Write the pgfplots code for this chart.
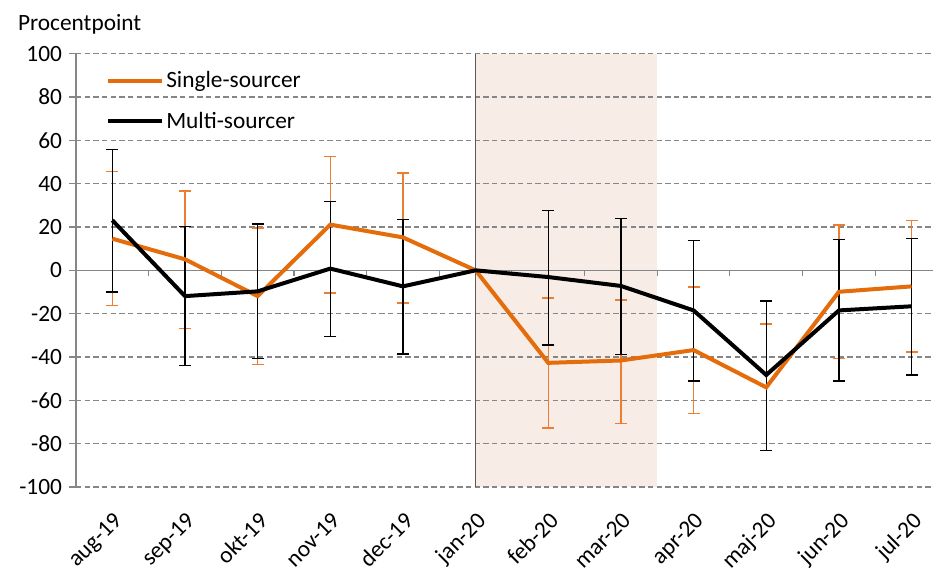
\documentclass[border=0pt]{standalone}
\usepackage{pgfplots}
\pgfplotsset{compat=1.18}
\usepackage{pgfplotstable}
\usepackage{fontspec}
\setmainfont{Carlito}
\definecolor{orng}{RGB}{228,108,10}
\definecolor{orngerr}{RGB}{237,125,49}
\definecolor{shadec}{RGB}{247,236,230}
\definecolor{gridc}{RGB}{134,134,134}
\definecolor{vline}{RGB}{89,89,89}

\pgfplotstableread{
x y ep em
0 14.6 31.1 30.8
1 5.1 31.5 32.0
2 -11.9 31.5 31.7
3 21.1 31.4 31.6
4 15.2 29.8 30.3
5 0 0 0
6 -42.7 29.9 30.1
7 -41.6 27.9 29.1
8 -36.8 29.1 29.3
9 -54.0 29.2 29.0
10 -9.9 30.8 30.9
11 -7.4 30.5 30.3
}\single

\pgfplotstableread{
x y ep em
0 23.1 32.8 33.1
1 -11.9 32.2 32.1
2 -9.7 31.1 31.1
3 0.8 31.1 31.3
4 -7.4 30.8 31.2
5 0 0 0
6 -3.1 30.8 31.4
7 -7.2 31.1 31.6
8 -18.5 32.4 32.5
9 -48.3 34.1 34.8
10 -18.5 32.8 32.6
11 -16.6 31.4 31.7
}\multi

\begin{document}
\begin{tikzpicture}[font=\fontsize{17.5}{21}\selectfont]
\begin{axis}[
  set layers,
  scale only axis, width=643pt, height=325pt,
  xmin=-0.5, xmax=11.3, ymin=-100, ymax=100,
  ytick={-100,-80,...,100},
  xtick={0,...,11},
  xticklabels={aug-19,sep-19,okt-19,nov-19,dec-19,jan-20,feb-20,mar-20,apr-20,maj-20,jun-20,jul-20},
  x tick label style={rotate=45, anchor=north east, inner sep=2pt},
  xticklabel shift=10pt,
  xtick style={draw=none},
  ytick pos=left,
  tick align=outside,
  major tick length=5pt,
  ytick style={gridc, line width=0.8pt},
  y tick label style={xshift=-2pt},
  /pgf/number format/assume math mode=true,
  ymajorgrids,
  grid style={gridc, line width=0.8pt, dash pattern=on 4pt off 2.5pt},
  axis line style={draw=none},
  legend style={draw=none, fill=none, at={(rel axis cs:0.035,0.965)}, anchor=north west, row sep=12.5pt, inner sep=0pt},
  legend cell align=left,
  legend image code/.code={\draw[#1] (0pt,0pt) -- (40pt,0pt);},
  clip=false,
]
\addplot[fill=shadec, draw=none, on layer=axis background, forget plot]
  coordinates {(5,-100) (7.5,-100) (7.5,100) (5,100)} -- cycle;
\draw[gridc, line width=0.8pt] (axis cs:-0.5,-100) -- (axis cs:-0.5,100);
\draw[gridc, line width=0.8pt] (axis cs:-0.5,0) -- (axis cs:11.3,0);
\pgfplotsinvokeforeach{0,...,10}{\draw[gridc, line width=0.8pt] (axis cs:#1.5,0) -- ([yshift=-4.5pt]axis cs:#1.5,0);}
\draw[vline, line width=1.2pt] (axis cs:5,-100) -- (axis cs:5,100);

\addplot[draw=none, forget plot, skip coords between index={5}{6},
  error bars/.cd, y dir=both, y explicit,
  error bar style={orngerr, line width=1pt},
  error mark options={rotate=90, mark size=4.5pt, orngerr, line width=1pt}]
  table[x=x, y=y, y error plus=ep, y error minus=em] {\single};
\addplot[draw=none, forget plot, skip coords between index={5}{6},
  error bars/.cd, y dir=both, y explicit,
  error bar style={black, line width=1pt},
  error mark options={rotate=90, mark size=4.5pt, black, line width=1pt}]
  table[x=x, y=y, y error plus=ep, y error minus=em] {\multi};

\addplot[orng, line width=3pt, no marks] table[x=x, y=y] {\single};
\addlegendentry{Single-sourcer}
\addplot[black, line width=3pt, no marks] table[x=x, y=y] {\multi};
\addlegendentry{Multi-sourcer}

\node[anchor=base west] at (rel axis cs:0,1) [xshift=-47pt, yshift=17.5pt] {Procentpoint};
\end{axis}
\path (-57pt,-57.75pt) rectangle (644.25pt,365.25pt);
\end{tikzpicture}
\end{document}
